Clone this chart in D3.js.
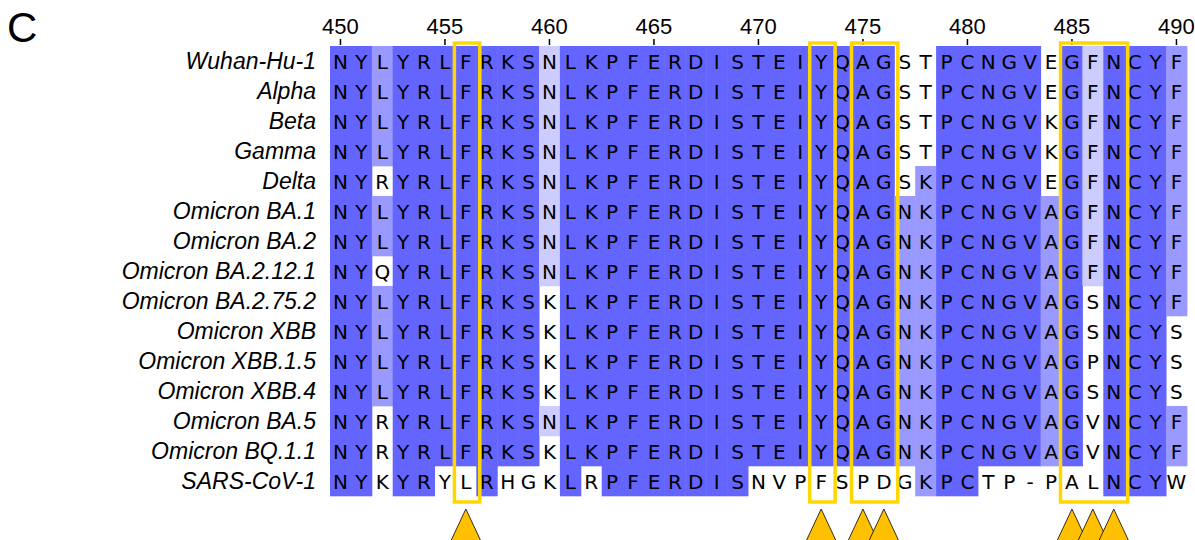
<!DOCTYPE html>
<html><head><meta charset="utf-8">
<script src="https://cdn.jsdelivr.net/npm/d3@7"></script>
<style>body{margin:0;background:#fff}</style>
</head><body>
<script>
const startPos = 450;
const names = ["Wuhan-Hu-1","Alpha","Beta","Gamma","Delta","Omicron BA.1","Omicron BA.2","Omicron BA.2.12.1","Omicron BA.2.75.2","Omicron XBB","Omicron XBB.1.5","Omicron XBB.4","Omicron BA.5","Omicron BQ.1.1","SARS-CoV-1"];
const seqs = [
"NYLYRLFRKSNLKPFERDISTEIYQAGSTPCNGVEGFNCYF",
"NYLYRLFRKSNLKPFERDISTEIYQAGSTPCNGVEGFNCYF",
"NYLYRLFRKSNLKPFERDISTEIYQAGSTPCNGVKGFNCYF",
"NYLYRLFRKSNLKPFERDISTEIYQAGSTPCNGVKGFNCYF",
"NYRYRLFRKSNLKPFERDISTEIYQAGSKPCNGVEGFNCYF",
"NYLYRLFRKSNLKPFERDISTEIYQAGNKPCNGVAGFNCYF",
"NYLYRLFRKSNLKPFERDISTEIYQAGNKPCNGVAGFNCYF",
"NYQYRLFRKSNLKPFERDISTEIYQAGNKPCNGVAGFNCYF",
"NYLYRLFRKSKLKPFERDISTEIYQAGNKPCNGVAGSNCYF",
"NYLYRLFRKSKLKPFERDISTEIYQAGNKPCNGVAGSNCYS",
"NYLYRLFRKSKLKPFERDISTEIYQAGNKPCNGVAGPNCYS",
"NYLYRLFRKSKLKPFERDISTEIYQAGNKPCNGVAGSNCYS",
"NYRYRLFRKSNLKPFERDISTEIYQAGNKPCNGVAGVNCYF",
"NYRYRLFRKSKLKPFERDISTEIYQAGNKPCNGVAGVNCYF",
"NYKYRYLRHGKLRPFERDISNVPFSPDGKPCTP-PALNCYW"
];
// identity shading level per cell: 0 none, 1 >40%, 2 >60%, 3 >80%
const shades = [
"33233333331" + "3333333333333333" + "00" + "33333" + "0" + "3" + "1" + "333" + "2",
"33233333331" + "3333333333333333" + "00" + "33333" + "0" + "3" + "1" + "333" + "2",
"33233333331" + "3333333333333333" + "00" + "33333" + "0" + "3" + "1" + "333" + "2",
"33233333331" + "3333333333333333" + "00" + "33333" + "0" + "3" + "1" + "333" + "2",
"33033333331" + "3333333333333333" + "02" + "33333" + "0" + "3" + "1" + "333" + "2",
"33233333331" + "3333333333333333" + "22" + "33333" + "2" + "3" + "1" + "333" + "2",
"33233333331" + "3333333333333333" + "22" + "33333" + "2" + "3" + "1" + "333" + "2",
"33033333331" + "3333333333333333" + "22" + "33333" + "2" + "3" + "1" + "333" + "2",
"33233333330" + "3333333333333333" + "22" + "33333" + "2" + "3" + "0" + "333" + "2",
"33233333330" + "3333333333333333" + "22" + "33333" + "2" + "3" + "0" + "333" + "0",
"33233333330" + "3333333333333333" + "22" + "33333" + "2" + "3" + "0" + "333" + "0",
"33233333330" + "3333333333333333" + "22" + "33333" + "2" + "3" + "0" + "333" + "0",
"33033333331" + "3333333333333333" + "22" + "33333" + "2" + "3" + "0" + "333" + "2",
"33033333330" + "3333333333333333" + "22" + "33333" + "2" + "3" + "0" + "333" + "2",
"3303300300030" + "3333333" + "00000000" + "2" + "33" + "000000" + "333" + "0"
];
const tickLabels = [450,455,460,465,470,475,480,485,490];
const boxGroups = [[456],[473],[475,476],[485,486,487]];
const markers = [456,473,475,476,485,486,487];
const shadeColors = ["#ffffff","#ccccff","#9999ff","#6464ff"];

const W=1195,H=540;
const svg = d3.select("body").append("svg").attr("width",W).attr("height",H);
const nCols = seqs[0].length;
const positions = d3.range(startPos, startPos+nCols);
const x = d3.scaleBand().domain(positions).range([330, 330+nCols*20.9]).padding(0);
const y = d3.scaleBand().domain(names).range([46, 46+names.length*30]).padding(0);
const bw = x.bandwidth(), bh = y.bandwidth();

// cells
const cells = [];
seqs.forEach((s,r)=>{ for(let c=0;c<s.length;c++) cells.push({name:names[r], pos:positions[c], ch:s[c], lvl:+shades[r][c]}); });
svg.append("g").selectAll("rect").data(cells.filter(d=>d.lvl>0)).join("rect")
  .attr("x",d=>x(d.pos)).attr("y",d=>y(d.name)).attr("width",bw+0.5).attr("height",bh+0.3)
  .attr("fill",d=>shadeColors[d.lvl]);
svg.append("g").selectAll("text").data(cells).join("text")
  .attr("x",d=>x(d.pos)+bw/2).attr("y",d=>y(d.name)+bh/2+7.5)
  .attr("text-anchor","middle").attr("font-family","DejaVu Sans").attr("font-size",20)
  .attr("fill","#000").text(d=>d.ch);

// names
svg.append("g").selectAll("text").data(names).join("text")
  .attr("x",316).attr("y",d=>y(d)+bh/2+8).attr("text-anchor","end")
  .attr("font-family","Liberation Sans, Arial").attr("font-style","italic").attr("font-size",23)
  .text(d=>d);

// axis
const ax = svg.append("g").attr("transform","translate(0,45)")
  .call(d3.axisTop(x).tickValues(tickLabels).tickSize(6).tickPadding(5));
ax.select(".domain").remove();
ax.selectAll("text").attr("font-family","Liberation Sans, Arial").attr("font-size",22).attr("fill","#000");
ax.selectAll("line").attr("stroke","#000").attr("stroke-width",1.5);

// boxes
svg.append("g").selectAll("rect").data(boxGroups).join("rect")
  .attr("x",d=>x(d[0])-1).attr("y",43)
  .attr("width",d=>x(d[d.length-1])+bw+3.5-(x(d[0])-1)).attr("height",459)
  .attr("fill","none").attr("stroke","#ffd700").attr("stroke-width",3.5);

// markers
svg.append("g").selectAll("path").data(markers).join("path")
  .attr("d",d=>{const cx=x(d)+bw/2; return `M${cx},509L${cx+15},541L${cx-15},541Z`;})
  .attr("fill","#ffc000").attr("stroke","#000").attr("stroke-width",0.8);

// panel letter
svg.append("text").attr("x",7).attr("y",42).attr("font-family","Liberation Sans, Arial")
  .attr("font-size",42).text("C");
</script>
</body></html>
